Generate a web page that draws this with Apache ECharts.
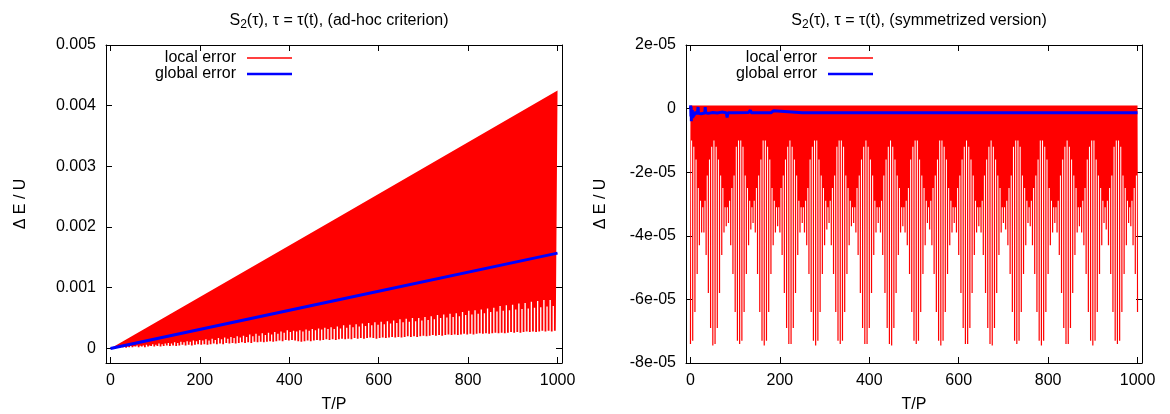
<!DOCTYPE html>
<html><head><meta charset="utf-8">
<script src="https://cdn.jsdelivr.net/npm/echarts@6/dist/echarts.min.js"></script>
<style>html,body{margin:0;padding:0;background:#fff}#c{width:1170px;height:414px}</style>
</head><body><div id="c"></div>
<script>
// ---------------- DATA ----------------
// shared x axis
const xTickValues = [0, 200, 400, 600, 800, 1000];
const xTickLabels = ['0', '200', '400', '600', '800', '1000'];

// ---- left panel (ad-hoc criterion), values in units of 1e-3 ----
const leftUnit = 1e-3;
const leftYTickValues = [0, 0.001, 0.002, 0.003, 0.004, 0.005];
const leftYTickLabels = ['0', '0.001', '0.002', '0.003', '0.004', '0.005'];
// upper envelope of local error
const leftTopT = [0, 500, 1000];
const leftTop = [0.0, 2.12, 4.25];
// local error: sampled spikes (T = leftStart + i*leftStep), lowest values of spikes
const leftStart = 0, leftStep = 7;
const leftSpikeLow = [
  0, 0.0, 0.01, 0.01, 0.02, 0.01, 0.02, 0.02, 0.03, 0.02,
  0.03, 0.02, 0.03, 0.04, 0.03, 0.04, 0.03, 0.04, 0.05, 0.04,
  0.05, 0.04, 0.05, 0.06, 0.05, 0.06, 0.05, 0.06, 0.07, 0.06,
  0.07, 0.06, 0.07, 0.08, 0.07, 0.08, 0.07, 0.09, 0.08, 0.09,
  0.08, 0.09, 0.10, 0.09, 0.10, 0.09, 0.11, 0.10, 0.11, 0.10,
  0.11, 0.12, 0.11, 0.12, 0.13, 0.12, 0.14, 0.13, 0.14, 0.13,
  0.12, 0.11, 0.12, 0.13, 0.12, 0.13, 0.14, 0.13, 0.14, 0.15,
  0.14, 0.15, 0.14, 0.15, 0.16, 0.15, 0.16, 0.15, 0.17, 0.16,
  0.17, 0.16, 0.17, 0.18, 0.17, 0.16, 0.17, 0.18, 0.17, 0.18,
  0.19, 0.18, 0.19, 0.18, 0.19, 0.20, 0.19, 0.20, 0.19, 0.20,
  0.21, 0.20, 0.21, 0.22, 0.21, 0.22, 0.21, 0.22, 0.23, 0.22,
  0.23, 0.22, 0.23, 0.24, 0.23, 0.24, 0.23, 0.24, 0.25, 0.24,
  0.25, 0.24, 0.25, 0.26, 0.25, 0.26, 0.25, 0.26, 0.27, 0.26,
  0.27, 0.26, 0.27, 0.28, 0.27, 0.28, 0.27, 0.28, 0.29, 0.28,
  0.29, 0.28, 0.29
];
// lowest values between consecutive spikes
const leftGapLow = [
  0.005, 0.01, 0.02, 0.025, 0.03, 0.03, 0.04, 0.035, 0.05, 0.045,
  0.05, 0.06, 0.05, 0.07, 0.06, 0.08, 0.07, 0.08, 0.09, 0.08,
  0.10, 0.09, 0.11, 0.10, 0.12, 0.11, 0.13, 0.12, 0.14, 0.13,
  0.15, 0.13, 0.16, 0.14, 0.17, 0.15, 0.18, 0.16, 0.19, 0.17,
  0.20, 0.18, 0.21, 0.19, 0.23, 0.20, 0.24, 0.21, 0.25, 0.22,
  0.26, 0.23, 0.27, 0.24, 0.28, 0.26, 0.30, 0.27, 0.29, 0.28,
  0.30, 0.28, 0.31, 0.29, 0.32, 0.30, 0.33, 0.31, 0.34, 0.32,
  0.35, 0.32, 0.36, 0.33, 0.38, 0.34, 0.39, 0.35, 0.40, 0.36,
  0.41, 0.37, 0.42, 0.38, 0.43, 0.39, 0.44, 0.40, 0.45, 0.41,
  0.46, 0.42, 0.48, 0.43, 0.49, 0.44, 0.50, 0.45, 0.50, 0.46,
  0.52, 0.47, 0.53, 0.48, 0.55, 0.50, 0.56, 0.51, 0.57, 0.52,
  0.58, 0.53, 0.60, 0.55, 0.62, 0.56, 0.63, 0.57, 0.64, 0.58,
  0.66, 0.60, 0.67, 0.61, 0.70, 0.62, 0.71, 0.63, 0.72, 0.64,
  0.74, 0.65, 0.75, 0.66, 0.77, 0.67, 0.78, 0.68, 0.80, 0.69,
  0.80, 0.70
];
// global error
const leftGlobalT = [0, 500, 1000];
const leftGlobal = [0, 0.785, 1.57];

// ---- right panel (symmetrized), values in units of 1e-5 ----
const rightUnit = 1e-5;
const rightYTickValues = [-8e-5, -6e-5, -4e-5, -2e-5, 0, 2e-5];
const rightYTickLabels = ['-8e-05', '-6e-05', '-4e-05', '-2e-05', '0', '2e-05'];
const rightTopT = [0, 1000];
const rightTop = [0.1, 0.1];
const rightStart = 0, rightStep = 5;
const rightSpikeLow = [
  -7.4, -7.3, -6.4, -5.2, -4.3, -3.9, -3.9, -4.6, -5.8, -6.9,
  -7.45, -7.4, -6.9, -5.8, -4.6, -3.9, -3.7, -3.6, -4.3, -5.2,
  -6.4, -7.3, -7.4, -7.3, -6.4, -5.2, -4.3, -3.8, -3.6, -3.9,
  -5.2, -6.4, -7.3, -7.45, -7.3, -6.4, -5.2, -4.3, -3.9, -3.7,
  -3.9, -4.6, -5.8, -6.9, -7.4, -7.4, -6.9, -5.8, -4.6, -3.9,
  -3.6, -3.9, -4.3, -5.2, -6.4, -7.3, -7.45, -7.3, -6.4, -5.2,
  -4.3, -3.8, -3.6, -4.3, -5.2, -6.4, -7.3, -7.4, -7.3, -6.4,
  -5.2, -4.3, -3.7, -3.6, -3.9, -4.6, -5.8, -6.9, -7.4, -7.4,
  -6.9, -5.8, -4.6, -3.9, -3.6, -3.9, -4.6, -5.8, -6.9, -7.4,
  -7.45, -6.9, -5.8, -4.6, -3.9, -3.7, -3.9, -4.3, -5.2, -6.4,
  -7.3, -7.4, -7.3, -6.4, -5.2, -4.3, -3.6, -3.8, -4.3, -5.2,
  -6.4, -7.3, -7.45, -7.3, -6.4, -5.2, -4.3, -3.9, -3.6, -3.9,
  -4.6, -5.8, -6.9, -7.4, -7.4, -6.9, -5.8, -4.6, -3.9, -3.7,
  -3.9, -4.6, -5.8, -6.9, -7.4, -7.45, -6.9, -5.8, -4.6, -3.9,
  -3.6, -3.8, -4.3, -5.2, -6.4, -7.3, -7.4, -7.3, -6.4, -5.2,
  -4.3, -3.6, -3.7, -4.3, -5.2, -6.4, -7.3, -7.45, -7.3, -6.4,
  -5.2, -4.3, -3.9, -3.6, -3.9, -4.6, -5.8, -6.9, -7.4, -7.4,
  -6.9, -5.8, -4.6, -3.9, -3.7, -3.9, -4.3, -5.2, -6.4, -7.3,
  -7.45, -7.3, -6.4, -5.2, -4.3, -3.6, -3.8, -4.3, -5.2, -6.4,
  -7.3, -7.4, -7.3, -6.4, -5.2, -4.3, -3.6, -3.7, -4.3, -5.2,
  -6.4
];
const rightGapLow = [
  -1.0, -1.2, -1.6, -2.5, -2.9, -3.1, -2.9, -2.1, -1.6, -1.2,
  -1.0, -1.2, -1.6, -2.1, -2.5, -3.1, -3.1, -2.9, -2.5, -2.1,
  -1.2, -1.0, -1.0, -1.2, -2.1, -2.5, -2.9, -3.1, -2.9, -2.5,
  -2.1, -1.6, -1.0, -1.0, -1.2, -1.6, -2.5, -2.9, -3.1, -3.1,
  -2.5, -2.1, -1.6, -1.2, -1.0, -1.2, -1.6, -2.1, -2.9, -3.1,
  -3.1, -2.9, -2.5, -1.6, -1.2, -1.0, -1.0, -1.6, -2.1, -2.5,
  -2.9, -3.1, -2.9, -2.5, -2.1, -1.2, -1.0, -1.0, -1.2, -2.1,
  -2.5, -2.9, -3.1, -3.1, -2.5, -2.1, -1.6, -1.2, -1.0, -1.2,
  -1.6, -2.1, -2.9, -3.1, -3.1, -2.9, -2.1, -1.6, -1.2, -1.0,
  -1.2, -1.6, -2.1, -2.5, -3.1, -3.1, -2.9, -2.5, -1.6, -1.2,
  -1.0, -1.0, -1.6, -2.1, -2.5, -2.9, -3.1, -2.9, -2.5, -2.1,
  -1.6, -1.0, -1.0, -1.2, -1.6, -2.5, -2.9, -3.1, -3.1, -2.5,
  -2.1, -1.6, -1.2, -1.0, -1.2, -1.6, -2.1, -2.9, -3.1, -3.1,
  -2.9, -2.1, -1.6, -1.2, -1.0, -1.2, -1.6, -2.1, -2.5, -3.1,
  -3.1, -2.9, -2.5, -2.1, -1.2, -1.0, -1.0, -1.2, -2.1, -2.5,
  -2.9, -3.1, -2.9, -2.5, -2.1, -1.6, -1.0, -1.0, -1.2, -1.6,
  -2.5, -2.9, -3.1, -3.1, -2.9, -2.1, -1.6, -1.2, -1.0, -1.2,
  -1.6, -2.1, -2.5, -3.1, -3.1, -2.9, -2.5, -1.6, -1.2, -1.0,
  -1.0, -1.6, -2.1, -2.5, -2.9, -3.1, -2.9, -2.5, -2.1, -1.2,
  -1.0, -1.0, -1.2, -2.1, -2.5, -2.9, -3.1, -2.9, -2.5, -2.1
];
const rightGlobalT = [0, 0.5, 1, 1.5, 2, 2.5, 3, 4, 5, 6, 7, 8, 9, 10, 12, 14, 16, 17, 18, 20,
  24, 28, 32, 33, 34, 40, 50, 60, 70, 80, 82, 84, 100, 130, 134, 136, 180, 186, 188, 250,
  300, 400, 500, 600, 700, 800, 900, 1000];
const rightGlobal = [0, 0.1, -0.25, 0.05, -0.4, -0.1, -0.3, -0.05, -0.3, -0.1, -0.25, -0.12, -0.2, -0.15, -0.1, -0.18, -0.08, 0.05, -0.15, -0.12,
  -0.16, -0.1, -0.14, 0.05, -0.13, -0.15, -0.12, -0.14, -0.11, -0.13, -0.28, -0.13, -0.13, -0.12, -0.05, -0.13, -0.13, -0.07, -0.13, -0.13,
  -0.13, -0.13, -0.13, -0.13, -0.13, -0.13, -0.13, -0.13];

// ---------------- CHART ----------------
const FONT = 'Liberation Sans, Arial, Helvetica, sans-serif';
const RED = '#ff0000', BLUE = '#0000ff';

function labelFrom(values, labels) {
  return function (v) {
    for (let i = 0; i < values.length; i++) {
      if (Math.abs(v - values[i]) < 1e-12) return labels[i];
    }
    return '';
  };
}

function bandRenderer(topT, topV, unit, start, step, spikeLow, gapLow, halfPx) {
  return function (params, api) {
    const pts = [];
    for (let i = 0; i < topT.length; i++) pts.push(api.coord([topT[i], topV[i] * unit]));
    const n = spikeLow.length;
    for (let i = n - 1; i >= 0; i--) {
      const p = api.coord([start + i * step, spikeLow[i] * unit]);
      pts.push([p[0] + halfPx, p[1]], [p[0] - halfPx, p[1]]);
      if (i > 0) {
        const g = api.coord([start + (i - 0.5) * step, gapLow[i - 1] * unit]);
        const q = api.coord([start + (i - 1) * step, spikeLow[i - 1] * unit]);
        pts.push([p[0] - halfPx, g[1]], [q[0] + halfPx, g[1]]);
      }
    }
    return { type: 'polygon', shape: { points: pts }, style: { fill: RED } };
  };
}

const xMin = -10, xMax = 1010;
function xAxis(gi, pos, main) {
  return {
    type: 'value', gridIndex: gi, position: pos, min: xMin, max: xMax,
    axisLine: { show: true, onZero: false, lineStyle: { color: '#000', width: 1 } },
    axisTick: { show: true, inside: true, length: 6, customValues: xTickValues, lineStyle: { color: '#000' } },
    axisLabel: { show: main, customValues: xTickValues, formatter: labelFrom(xTickValues, xTickLabels),
      margin: 10, fontSize: 16, color: '#000', fontFamily: FONT },
    splitLine: { show: false },
    name: main ? 'T/P' : '', nameLocation: 'middle', nameGap: 34,
    nameTextStyle: { fontSize: 16, color: '#000', fontFamily: FONT }
  };
}
function yAxis(gi, pos, main, min, max, vals, labs) {
  return {
    type: 'value', gridIndex: gi, position: pos, min: min, max: max,
    axisLine: { show: true, onZero: false, lineStyle: { color: '#000', width: 1 } },
    axisTick: { show: true, inside: true, length: 6, customValues: vals, lineStyle: { color: '#000' } },
    axisLabel: { show: main, customValues: vals, formatter: labelFrom(vals, labs),
      margin: 10, fontSize: 16, color: '#000', fontFamily: FONT },
    splitLine: { show: false },
    name: main ? 'Δ E / U' : '', nameLocation: 'middle', nameGap: 77, nameRotate: 90,
    nameTextStyle: { fontSize: 16, color: '#000', fontFamily: FONT }
  };
}

function titleRich(rest) {
  return '{n|S}{s|2}{n|(τ), τ = τ(t), ' + rest + '}';
}
const titleRichStyle = {
  n: { fontSize: 16, fontWeight: 'normal', color: '#000', fontFamily: FONT, lineHeight: 20 },
  s: { fontSize: 12, fontWeight: 'normal', color: '#000', fontFamily: FONT, lineHeight: 20, padding: [7, 0, 0, 0] }
};

function legendItem(name, color, h, right, top) {
  return {
    data: [{ name: name, icon: 'rect', itemStyle: { color: color } }],
    orient: 'vertical', align: 'right', right: right, top: top, padding: 0,
    itemWidth: 45, itemHeight: h, selectedMode: false,
    textStyle: { fontSize: 16, color: '#000', fontFamily: FONT, padding: [0, 6, 0, 0] }
  };
}

const option = {
  animation: false,
  backgroundColor: '#ffffff',
  title: [
    { text: titleRich('(ad-hoc criterion)'), left: 334, top: 6, textAlign: 'center',
      textStyle: { fontWeight: 'normal', rich: titleRichStyle } },
    { text: titleRich('(symmetrized version)'), left: 914, top: 6, textAlign: 'center',
      textStyle: { fontWeight: 'normal', rich: titleRichStyle } }
  ],
  legend: [
    legendItem('local error', RED, 1.5, 878, 50),
    legendItem('global error', BLUE, 2.5, 878, 66),
    legendItem('local error', RED, 1.5, 297, 50),
    legendItem('global error', BLUE, 2.5, 297, 66)
  ],
  grid: [
    { left: 106, right: 608, top: 45, bottom: 51, containLabel: false, outerBoundsMode: 'none' },
    { left: 686, right: 28, top: 45, bottom: 51, containLabel: false, outerBoundsMode: 'none' }
  ],
  xAxis: [xAxis(0, 'bottom', true), xAxis(0, 'top', false), xAxis(1, 'bottom', true), xAxis(1, 'top', false)],
  yAxis: [
    yAxis(0, 'left', true, -0.00024, 0.005, leftYTickValues, leftYTickLabels),
    yAxis(0, 'right', false, -0.00024, 0.005, leftYTickValues, leftYTickLabels),
    yAxis(1, 'left', true, -8e-5, 2e-5, rightYTickValues, rightYTickLabels),
    yAxis(1, 'right', false, -8e-5, 2e-5, rightYTickValues, rightYTickLabels)
  ],
  series: [
    { name: 'local error', type: 'custom', xAxisIndex: 0, yAxisIndex: 0, z: 2,
      itemStyle: { color: RED }, data: [[0, 0]], encode: { x: 0, y: 1 },
      renderItem: bandRenderer(leftTopT, leftTop, leftUnit, leftStart, leftStep, leftSpikeLow, leftGapLow, 0.9) },
    { name: 'global error', type: 'line', xAxisIndex: 0, yAxisIndex: 0, z: 3,
      showSymbol: false, symbol: 'none', lineStyle: { color: BLUE, width: 3 }, itemStyle: { color: BLUE },
      data: leftGlobalT.map((t, i) => [t, leftGlobal[i] * leftUnit]) },
    { name: 'local error', type: 'custom', xAxisIndex: 2, yAxisIndex: 2, z: 2,
      itemStyle: { color: RED }, data: [[0, 0]], encode: { x: 0, y: 1 },
      renderItem: bandRenderer(rightTopT, rightTop, rightUnit, rightStart, rightStep, rightSpikeLow, rightGapLow, 0.6) },
    { name: 'global error', type: 'line', xAxisIndex: 2, yAxisIndex: 2, z: 3,
      showSymbol: false, symbol: 'none', lineStyle: { color: BLUE, width: 3 }, itemStyle: { color: BLUE },
      data: rightGlobalT.map((t, i) => [t, rightGlobal[i] * rightUnit]) }
  ]
};

const chart = echarts.init(document.getElementById('c'), null, { renderer: 'canvas' });
chart.setOption(option);
</script>
</body></html>
